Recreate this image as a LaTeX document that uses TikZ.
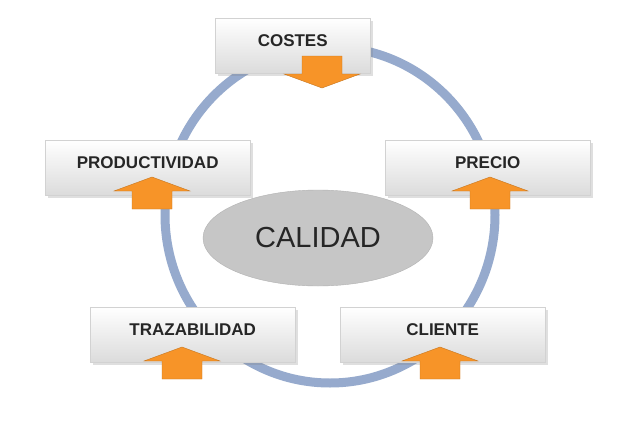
\documentclass[tikz,border=0pt]{standalone}
\usepackage{fontspec}
\setmainfont{Liberation Sans}
\usetikzlibrary{shadows,shapes.geometric}
\definecolor{ring}{RGB}{150,170,205}
\definecolor{org}{RGB}{247,148,40}
\tikzset{
  box/.style={rectangle, minimum width=205pt, minimum height=55pt, top color=white, bottom color=gray!28, draw=gray!35, drop shadow={opacity=0.25}, font=\bfseries\fontsize{17}{20}\selectfont, text=black!85, align=center, text depth=10pt},
  blockarrow/.style={fill=org, draw=org!80!black, line width=0.4pt}
}
\newcommand{\uparr}[2]{\fill[blockarrow] (#1,#2) -- (#1+38,#2+14) -- (#1+20,#2+14) -- (#1+20,#2+32) -- (#1-20,#2+32) -- (#1-20,#2+14) -- (#1-38,#2+14) -- cycle;}
\begin{document}
\begin{tikzpicture}[x=1pt,y=-1pt]
\useasboundingbox (0,0) rectangle (640,439);
\fill[white] (0,0) rectangle (640,439);
\draw[ring, line width=9pt] (330,215) ellipse (165 and 168);
\node[box, minimum width=155pt, anchor=north west] (costes) at (215,18) {COSTES};
\node[box, anchor=north west] (prod) at (45,140) {PRODUCTIVIDAD};
\node[box, anchor=north west] (precio) at (385,140) {PRECIO};
\node[box, anchor=north west] (traz) at (90,307) {TRAZABILIDAD};
\node[box, anchor=north west] (cliente) at (340,307) {CLIENTE};
\fill[blockarrow] (322,88) -- (360,74) -- (342,74) -- (342,56) -- (302,56) -- (302,74) -- (284,74) -- cycle;
\uparr{152}{177}
\uparr{490}{177}
\uparr{182}{347}
\uparr{440}{347}
\node[ellipse, minimum width=230pt, minimum height=96pt, fill=gray!45, draw=gray!60, font=\fontsize{29}{34}\selectfont, text=black!85] (cal) at (318,238) {CALIDAD};
\end{tikzpicture}
\end{document}
